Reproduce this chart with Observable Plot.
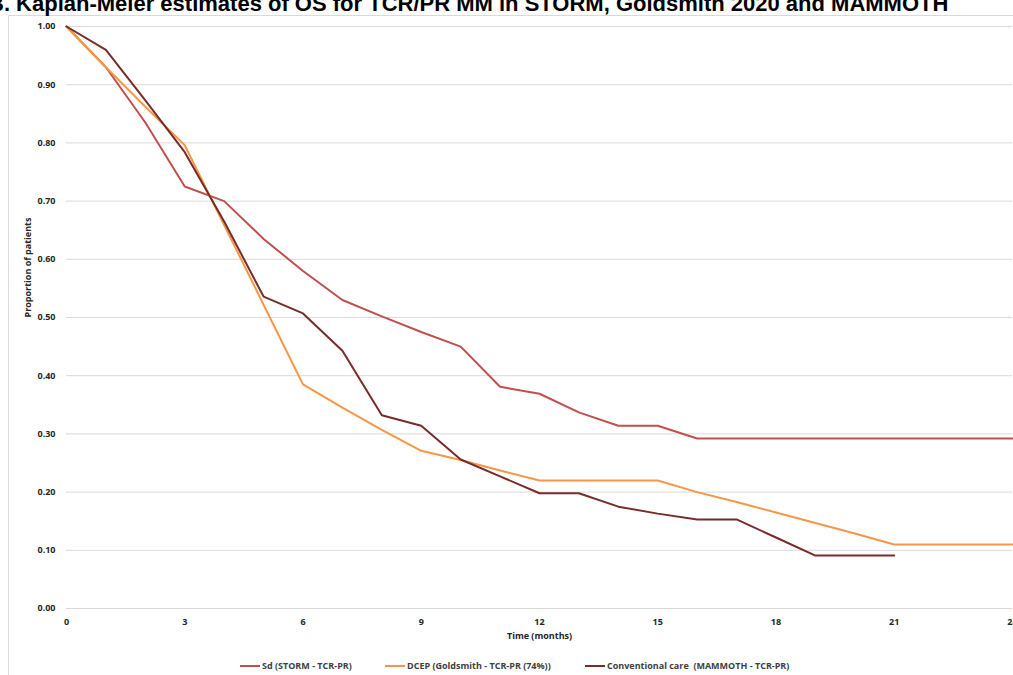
<!DOCTYPE html>
<html>
<head>
<meta charset="utf-8">
<script src="https://cdn.jsdelivr.net/npm/d3@7"></script>
<script src="https://cdn.jsdelivr.net/npm/@observablehq/plot@0.6"></script>
<style>
  html, body { margin: 0; padding: 0; background: #fff; overflow: hidden; width: 1013px; height: 675px; }
  #wrap { position: relative; width: 1013px; height: 675px; overflow: hidden; }
  #frame { position: absolute; left: 8px; top: 15px; width: 1100px; height: 700px; border-left: 1px solid #d9d9d9; border-top: 1px solid #d9d9d9; }
  #title { position: absolute; left: -12px; top: -9px; white-space: nowrap; font-family: "Liberation Sans Narrow", "Liberation Sans", Arial, sans-serif; font-weight: bold; font-size: 22px; color: #000; }
  #chart { position: absolute; left: 0; top: 0; width: 1040px; }
  #chart svg { max-width: none !important; }
  #legend { position: absolute; top: 659px; left: 0; width: 1013px; font-family: "Open Sans", sans-serif; font-size: 9px; font-weight: bold; color: #404040; }
  .item { position: absolute; display: flex; align-items: center; white-space: pre; }
  .sw { display: inline-block; width: 20px; height: 2px; margin-right: 2px; }
</style>
</head>
<body>
<div id="wrap">
  <div id="frame"></div>
  <div id="title"></div>
  <div id="chart"></div>
  <div id="legend"></div>
</div>
<script>
const titleText = "B. Kaplan-Meier estimates of OS for TCR/PR MM in STORM, Goldsmith 2020 and MAMMOTH";
const seriesNames = ["Sd (STORM - TCR-PR)", "DCEP (Goldsmith - TCR-PR (74%))", "Conventional care  (MAMMOTH - TCR-PR)"];
const seriesColors = ["#c0504d", "#f79646", "#772c2a"];
const months = [0,1,2,3,4,5,6,7,8,9,10,11,12,13,14,15,16,17,18,19,20,21,22,23,24];
const storm = [1.00,0.93,0.835,0.725,0.70,0.635,0.58,0.53,0.502,0.475,0.45,0.381,0.369,0.337,0.314,0.314,0.292,0.292,0.292,0.292,0.292,0.292,0.292,0.292,0.292];
const goldsmith = [1.00,0.93,0.862,0.796,0.659,0.522,0.385,0.345,0.307,0.271,0.255,0.237,0.22,0.22,0.22,0.22,0.20,0.183,0.165,0.147,0.129,0.11,0.11,0.11,0.11];
const mammothMonths = [0,1,2,3,4,5,6,7,8,9,10,11,12,13,14,15,16,17,18,19,20,21];
const mammoth = [1.00,0.96,0.873,0.784,0.665,0.536,0.507,0.443,0.332,0.314,0.256,0.227,0.198,0.198,0.175,0.163,0.153,0.153,0.122,0.091,0.091,0.091];
const xTicks = [0,3,6,9,12,15,18,21,24];
const yTicks = [0,0.1,0.2,0.3,0.4,0.5,0.6,0.7,0.8,0.9,1.0];
const xLabel = "Time (months)";
const yLabel = "Proportion of patients";

document.getElementById("title").textContent = titleText;

const rows = [];
months.forEach((m, i) => rows.push({t: m, v: storm[i], s: seriesNames[0]}));
months.forEach((m, i) => rows.push({t: m, v: goldsmith[i], s: seriesNames[1]}));
mammothMonths.forEach((m, i) => rows.push({t: m, v: mammoth[i], s: seriesNames[2]}));

const chart = Plot.plot({
  width: 1040,
  height: 650,
  marginLeft: 66,
  marginRight: 28,
  marginTop: 26,
  marginBottom: 42,
  style: {fontFamily: "'Open Sans', sans-serif", fontSize: "9px", fontWeight: "bold", color: "#262626", background: "transparent", overflow: "visible", maxWidth: "none"},
  x: {domain: [0, 24], label: null},
  y: {domain: [0, 1], label: null},
  color: {domain: seriesNames, range: seriesColors},
  marks: [
    Plot.gridY(yTicks, {stroke: "#d9d9d9", strokeOpacity: 1}),
    Plot.axisY({ticks: yTicks, tickFormat: d3.format(".2f"), tickSize: 0, tickPadding: 11, label: null}),
    Plot.axisX({ticks: xTicks, tickSize: 0, tickPadding: 10, label: null}),
    Plot.text([xLabel], {frameAnchor: "bottom", dy: 30, text: d => d}),
    Plot.text([yLabel], {frameAnchor: "left", dx: -38, rotate: -90, text: d => d}),
    Plot.line(rows, {x: "t", y: "v", z: "s", stroke: "s", strokeWidth: 2})
  ]
});
document.getElementById("chart").appendChild(chart);

const legendPos = [240, 385, 585];
const legend = document.getElementById("legend");
seriesNames.forEach((name, i) => {
  const it = document.createElement("div");
  it.className = "item";
  it.style.left = legendPos[i] + "px";
  const sw = document.createElement("span");
  sw.className = "sw";
  sw.style.background = seriesColors[i];
  const tx = document.createElement("span");
  tx.textContent = name;
  it.appendChild(sw); it.appendChild(tx);
  legend.appendChild(it);
});
</script>
</body>
</html>
